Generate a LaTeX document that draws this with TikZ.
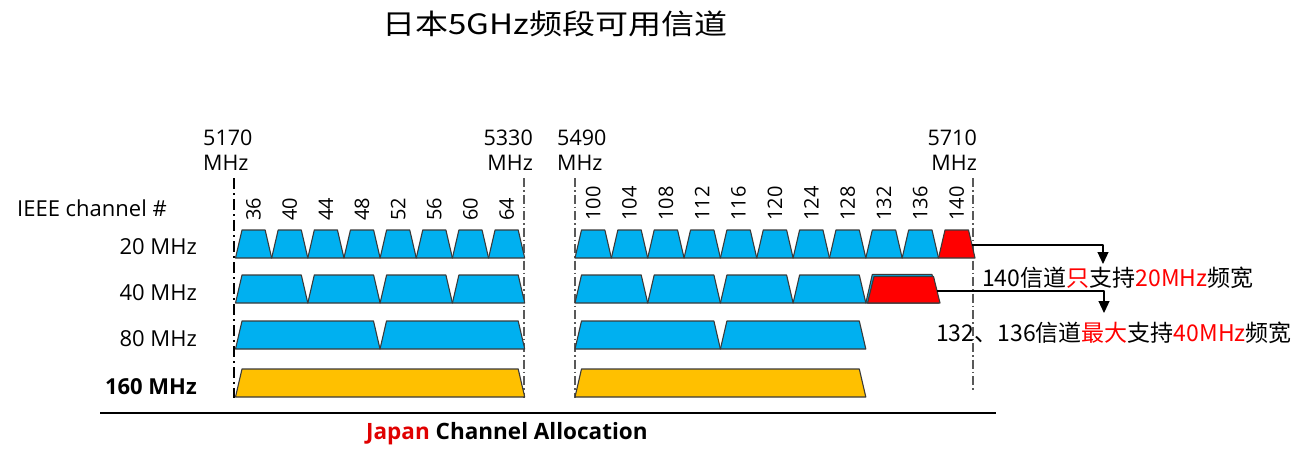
\documentclass[tikz,border=0pt]{standalone}
\usepackage{fontspec}
\setmainfont{Open Sans}
\newfontfamily\cjk{Noto Sans CJK SC}
\usetikzlibrary{arrows.meta}
\definecolor{cblue}{HTML}{00B0F0}
\definecolor{cyellow}{HTML}{FFC000}
\definecolor{cred}{HTML}{FF0000}
\definecolor{cedge}{HTML}{3A3A3A}
\definecolor{capred}{HTML}{E00000}
\newcommand{\trap}[5]{\filldraw[#1] (#2,#5) -- (#2+6.5,#4) -- (#3-6.5,#4) -- (#3,#5) -- cycle;}
\tikzset{
  bluech/.style={fill=cblue,draw=cedge,line width=1.1pt},
  redch/.style={fill=cred,draw=cedge,line width=1.1pt},
  yelch/.style={fill=cyellow,draw=cedge,line width=1.1pt},
  chnum/.style={rotate=90,anchor=west,inner sep=0pt,font=\fontsize{20}{24}\selectfont},
  rowlab/.style={anchor=east,inner sep=0pt,font=\fontsize{22}{26}\selectfont},
  freqlab/.style={inner sep=0pt,font=\fontsize{21.5}{25}\selectfont},
  bandline/.style={draw=black!65,line width=1.3pt,dash pattern=on 9pt off 3pt on 1.5pt off 3pt},
  bandlineL/.style={draw=black,line width=2pt,dash pattern=on 11pt off 4pt on 2pt off 4pt},
  note/.style={anchor=west,inner sep=0pt,font=\cjk\fontsize{23}{27}\selectfont},
  arr/.style={line width=1.2pt,-{Triangle[width=11pt,length=12pt]}}
}
\begin{document}
\begin{tikzpicture}[x=1pt,y=-1pt,line join=round]
\useasboundingbox (0,0) rectangle (1308,461);

% title
\node[inner sep=0pt,xscale=1.18,font=\cjk\fontsize{28}{32}\selectfont] (title) at (555,24) {日本5GHz频段可用信道};

% band edge lines
\coordinate (lA) at (234,178); \coordinate (lAb) at (234,398);
\coordinate (lB) at (524,178); \coordinate (lBb) at (524,398);
\coordinate (lC) at (575,178); \coordinate (lCb) at (575,398);
\coordinate (lD) at (973,178); \coordinate (lDb) at (973,392);
\draw[bandlineL] (lA) -- (lAb);
\draw[bandline] (lB) -- (lBb);
\draw[bandline] (lC) -- (lCb);
\draw[bandline] (lD) -- (lDb);

% frequency labels
\node[freqlab,anchor=north west,align=left] (f5170) at (203,130) {5170\\MHz};
\node[freqlab,anchor=north east,align=right] (f5330) at (533,130) {5330\\MHz};
\node[freqlab,anchor=north west,align=left] (f5490) at (557,130) {5490\\MHz};
\node[freqlab,anchor=north east,align=right] (f5710) at (977,130) {5710\\MHz};

% row labels
\node[anchor=west,inner sep=0pt,font=\fontsize{22}{26}\selectfont] (ieee) at (17,208) {IEEE channel \#};
\node[rowlab] (r20) at (197,247) {20 MHz};
\node[rowlab] (r40) at (197,293) {40 MHz};
\node[rowlab] (r80) at (197,339) {80 MHz};
\node[rowlab,font=\bfseries\fontsize{22}{26}\selectfont] (r160) at (197,387) {160 MHz};

% channel numbers
\foreach \n [count=\i from 0] in {36,40,44,48,52,56,60,64}
  {\node[chnum] (ch\n) at (235.5+36.15*\i+18.07,221) {\n};}
\foreach \n [count=\i from 0] in {100,104,108,112,116,120,124,128,132,136,140}
  {\node[chnum] (ch\n) at (575+36.35*\i+18.17,221) {\n};}

% 20 MHz
\foreach \i in {0,...,7}
  {\trap{bluech}{235.5+36.15*\i}{235.5+36.15*\i+36.15}{230}{258}}
\foreach \i in {0,...,9}
  {\trap{bluech}{575+36.35*\i}{575+36.35*\i+36.35}{230}{258}}
\trap{redch}{938.5}{975}{230}{258}

% 40 MHz
\foreach \i in {0,...,3}
  {\trap{bluech}{235.5+72.3*\i}{235.5+72.3*\i+72.3}{275}{303}}
\foreach \i in {0,...,3}
  {\trap{bluech}{575+72.7*\i}{575+72.7*\i+72.7}{275}{303}}
\trap{bluech}{865.8}{938.5}{274.5}{303}
\trap{redch}{867.5}{940}{276.5}{303}

% 80 MHz
\trap{bluech}{235.5}{380}{321}{349}
\trap{bluech}{380}{524.7}{321}{349}
\trap{bluech}{575}{720.4}{321}{349}
\trap{bluech}{720.4}{865.8}{321}{349}

% 160 MHz
\trap{yelch}{235.5}{524.7}{369}{397}
\trap{yelch}{575}{865.8}{369}{397}

% annotations
\node[note] (t1) at (982,278) {140信道{\color{cred}只}支持{\color{cred}20MHz}频宽};
\node[note] (t2) at (936,333) {132、136信道{\color{cred}最大}支持{\color{cred}40MHz}频宽};

\coordinate (a1s) at (972,245);
\coordinate (a1c) at (1103,245);
\coordinate (a1e) at (1103,264);
\draw[arr] (a1s) -- (a1c) -- (a1e);
\coordinate (a2s) at (937,291);
\coordinate (a2c) at (1104,291);
\coordinate (a2e) at (1104,313);
\draw[arr] (a2s) -- (a2c) -- (a2e);

% bottom rule and caption
\coordinate (b1) at (100,413); \coordinate (b2) at (996,413);
\draw[line width=2pt] (b1) -- (b2);
\node[anchor=west,inner sep=0pt,font=\bfseries\fontsize{22.5}{26}\selectfont] (cap) at (366,434) {{\color{capred}Japan} Channel Allocation};
\end{tikzpicture}
\end{document}
